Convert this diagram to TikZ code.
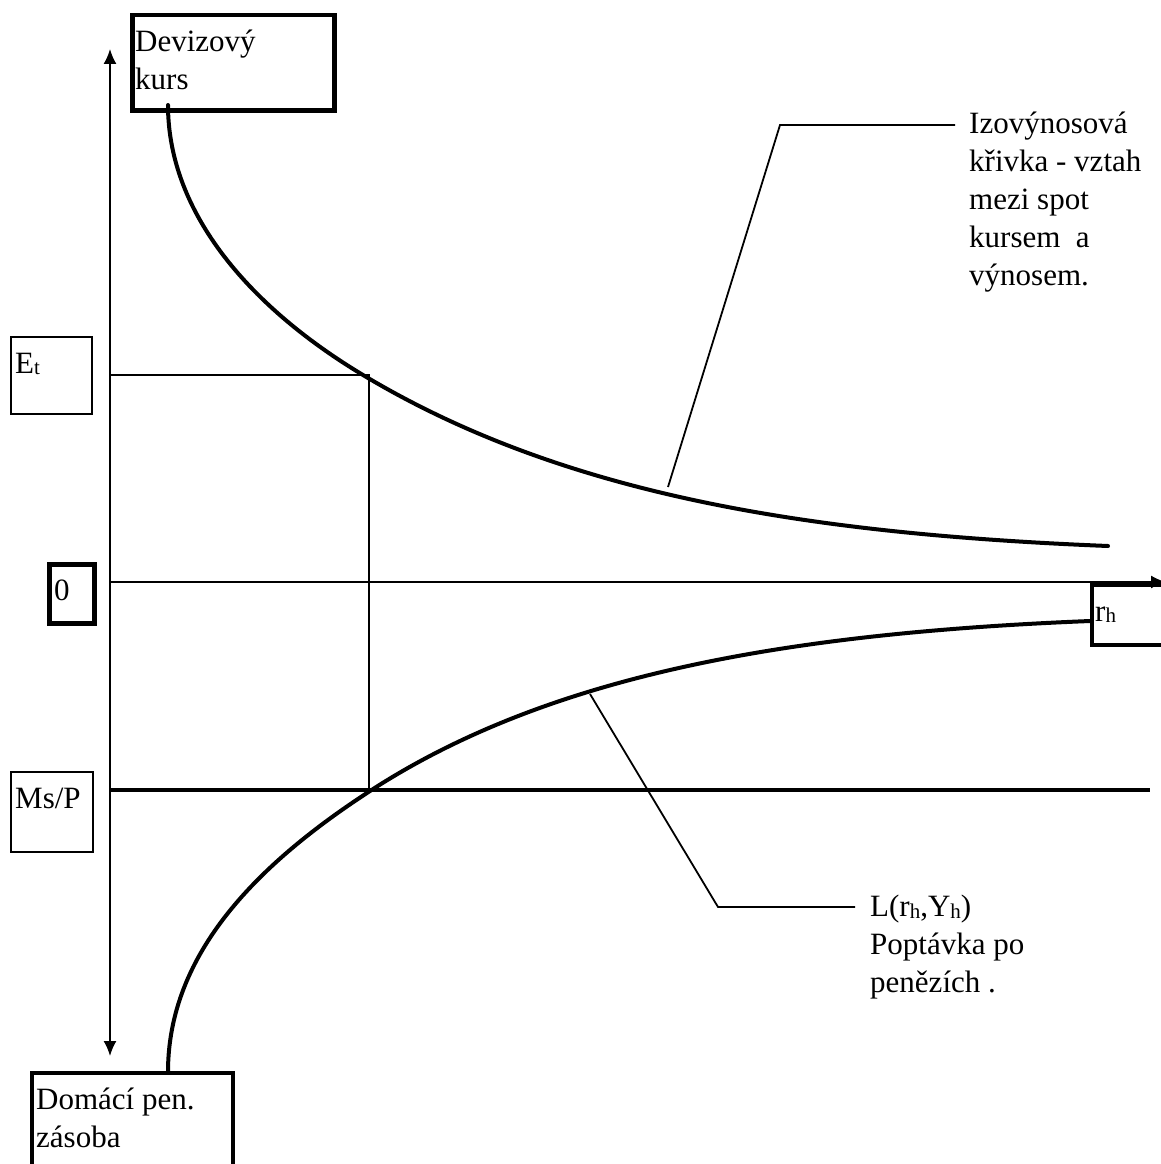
\documentclass[tikz,border=0pt]{standalone}
\usepackage{fontspec}
\setmainfont{Liberation Serif}
\usetikzlibrary{arrows.meta}
\newcommand\mysub[1]{\raisebox{-1.5pt}{\fontsize{21}{21}\selectfont #1}}
\begin{document}
\begin{tikzpicture}[x=1pt,y=-1pt,
  lbl/.style={font=\fontsize{31}{38}\selectfont, inner sep=0pt, align=left},
  boxthin/.style={draw, line width=2.2pt, inner sep=0pt, anchor=north west},
  boxthick/.style={draw, line width=4.5pt, inner sep=0pt, anchor=north west},
  thinline/.style={line width=1.8pt},
  curveline/.style={line width=4pt, line cap=round},
  axisarrow/.style={line width=1.8pt, {Latex[length=15pt,width=13pt]}-{Latex[length=15pt,width=13pt]}}]
\useasboundingbox (0,0) rectangle (1161,1164);
% boxes
\node[boxthick, minimum width=202pt, minimum height=95pt] (devbox) at (130,13) {};
\node[boxthin, minimum width=81pt, minimum height=77pt] (etbox) at (10,336) {};
\node[boxthick, minimum width=45pt, minimum height=59pt] (zerobox) at (47,562) {};
\node[boxthick, line width=3.5pt, minimum width=80pt, minimum height=60pt] (rhbox) at (1090,583) {};
\node[boxthin, minimum width=82pt, minimum height=80pt] (msbox) at (10,771) {};
\node[boxthick, line width=3.5pt, minimum width=201pt, minimum height=110pt] (dombox) at (30,1071) {};
% box texts
\node[lbl, anchor=north west] (devtxt) at (135,30) {Devizový\\kurs};
\node[lbl, anchor=base west] (ettxt) at (15,373) {E\mysub{t}};
\node[lbl, anchor=base west] (zerotxt) at (54,600) {0};
\node[lbl, anchor=base west] (rhtxt) at (1095,621) {r\mysub{h}};
\node[lbl, anchor=base west] (mstxt) at (15,808) {Ms/P};
\node[lbl, anchor=north west] (domtxt) at (36,1088) {Domácí pen.\\zásoba};
% axes
\coordinate (vtop) at (110,49);
\coordinate (vbot) at (110,1056);
\draw[axisarrow] (vbot) -- (vtop);
\coordinate (hleft) at (110,582);
\coordinate (hright) at (1166,582);
\draw[line width=1.8pt, -{Latex[length=15pt,width=13pt]}] (hleft) -- (hright);
% equilibrium lines
\coordinate (etleft) at (110,375);
\coordinate (eq1) at (369,375);
\coordinate (eq2) at (369,790);
\draw[thinline] (etleft) -- (eq1) -- (eq2);
\coordinate (msleft) at (110,790);
\coordinate (msright) at (1150,790);
\draw[line width=4.5pt] (msleft) -- (msright);
% curves
\coordinate (c1s) at (168,105);
\coordinate (c1m) at (363,375);
\coordinate (c1e) at (1108,546);
\draw[curveline] (c1s) .. controls (168,215) and (253,309) .. (c1m)
  .. controls (563,495) and (808,534) .. (c1e);
\coordinate (c2s) at (168,1072);
\coordinate (c2m) at (370,791);
\coordinate (c2e) at (1090,621);
\draw[curveline] (c2s) .. controls (168,952) and (260,862.5) .. (c2m)
  .. controls (550,674) and (790,633) .. (c2e);
% leaders
\coordinate (l1a) at (668,487);
\coordinate (l1b) at (780,125);
\coordinate (l1c) at (955,125);
\draw[thinline] (l1a) -- (l1b) -- (l1c);
\coordinate (l2a) at (590,694);
\coordinate (l2b) at (718,907);
\coordinate (l2c) at (855,907);
\draw[thinline] (l2a) -- (l2b) -- (l2c);
% labels
\node[lbl, anchor=north west] (izotxt) at (969,112) {Izovýnosová\\křivka - vztah\\mezi spot\\kursem~ a\\výnosem.};
\node[lbl, anchor=north west] (ltxt) at (870,895) {L(r\mysub{h},Y\mysub{h})\\Poptávka po\\penězích .};
\end{tikzpicture}
\end{document}
